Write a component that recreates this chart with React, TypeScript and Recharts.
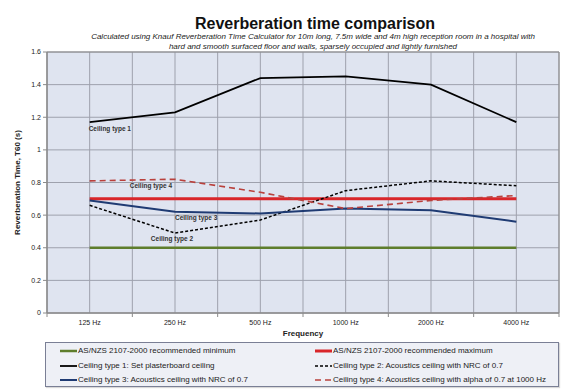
import React from 'react';
import { LineChart, Line, XAxis, YAxis, CartesianGrid, ReferenceArea } from 'recharts';

const categories = ['125 Hz', '250 Hz', '500 Hz', '1000 Hz', '2000 Hz', '4000 Hz'];
const minRecommended = [0.4, 0.4, 0.4, 0.4, 0.4, 0.4];
const maxRecommended = [0.7, 0.7, 0.7, 0.7, 0.7, 0.7];
const ceiling1 = [1.17, 1.23, 1.44, 1.45, 1.4, 1.17];
const ceiling2 = [0.66, 0.49, 0.57, 0.75, 0.81, 0.78];
const ceiling3 = [0.69, 0.62, 0.61, 0.64, 0.63, 0.56];
const ceiling4 = [0.81, 0.82, 0.74, 0.64, 0.69, 0.72];
const yTicks = [0, 0.2, 0.4, 0.6, 0.8, 1, 1.2, 1.4, 1.6];
const xTicks = [0, 0.5, 1, 1.5, 2, 2.5, 3, 3.5, 4, 4.5, 5, 5.5, 6];

const title = 'Reverberation time comparison';
const subtitle1 =
  'Calculated using Knauf Reverberation Time Calculator for 10m long, 7.5m wide and 4m high reception room in a hospital with';
const subtitle2 = 'hard and smooth surfaced floor and walls, sparsely occupied and lightly furnished';

const data = categories.map((c, i) => ({
  x: i + 0.5,
  cat: c,
  min: minRecommended[i],
  max: maxRecommended[i],
  c1: ceiling1[i],
  c2: ceiling2[i],
  c3: ceiling3[i],
  c4: ceiling4[i],
}));

const FONT = '"Liberation Sans", Arial, sans-serif';

const series = [
  { key: 'min', name: 'AS/NZS 2107-2000 recommended minimum', color: '#5e7d2c', width: 2.5, dash: undefined as string | undefined },
  { key: 'max', name: 'AS/NZS 2107-2000 recommended maximum', color: '#d9262a', width: 3, dash: undefined },
  { key: 'c1', name: 'Ceiling type 1: Set plasterboard ceiling', color: '#000000', width: 1.8, dash: undefined },
  { key: 'c2', name: 'Ceiling type 2: Acoustics ceiling with NRC of 0.7', color: '#000000', width: 1.5, dash: '3 2' },
  { key: 'c3', name: 'Ceiling type 3: Acoustics ceiling with NRC of 0.7', color: '#1f3b73', width: 2, dash: undefined },
  { key: 'c4', name: 'Ceiling type 4: Acoustics ceiling with alpha of 0.7 at 1000 Hz', color: '#b9413d', width: 1.6, dash: '6 4' },
];

const annotations: Record<string, { index: number; text: string; dx: number; dy: number; anchor: string }> = {
  c1: { index: 0, text: 'Ceiling type 1', dx: -1, dy: 9, anchor: 'start' },
  c4: { index: 1, text: 'Ceiling type 4', dx: -3, dy: 9, anchor: 'end' },
  c3: { index: 1, text: 'Ceiling type 3', dx: 0, dy: 8, anchor: 'start' },
  c2: { index: 1, text: 'Ceiling type 2', dx: -3, dy: 8, anchor: 'middle' },
};

const makeLabel = (key: string) => (props: any) => {
  const a = annotations[key];
  if (!a || props.index !== a.index) return <g key={`l-${key}-${props.index}`} />;
  return (
    <text
      key={`l-${key}-${props.index}`}
      x={props.x + a.dx}
      y={props.y + a.dy}
      textAnchor={a.anchor}
      fontSize={6.5}
      fontWeight={700}
      fill="#333"
      fontFamily={FONT}
    >
      {a.text}
    </text>
  );
};

const XTick = (props: any) => {
  const { x, y, payload } = props;
  const v = payload.value as number;
  if (Number.isInteger(v)) {
    return <line x1={x} x2={x} y1={y} y2={y + 4} stroke="#8a8a8a" strokeWidth={1} />;
  }
  return (
    <text x={x} y={y + 11.5} textAnchor="middle" fontSize={7} fill="#222" fontFamily={FONT}>
      {categories[Math.round(v - 0.5)]}
    </text>
  );
};

const YLabel = (props: any) => {
  const vb = props.viewBox;
  const cx = 17;
  const cy = vb.y + vb.height / 2;
  return (
    <text
      x={cx}
      y={cy}
      transform={`rotate(-90 ${cx} ${cy})`}
      textAnchor="middle"
      dominantBaseline="central"
      fontSize={8}
      fontWeight={700}
      fill="#222"
      fontFamily={FONT}
    >
      Reverberation Time, T60 (s)
    </text>
  );
};

const Swatch = ({ color, width, dash }: { color: string; width: number; dash?: string }) => (
  <svg width={17} height={6} style={{ display: 'block' }}>
    <line x1={0} x2={17} y1={3} y2={3} stroke={color} strokeWidth={width} strokeDasharray={dash} />
  </svg>
);

const legendOrder = [
  [series[0], series[1]],
  [series[2], series[3]],
  [series[4], series[5]],
];

export default function App() {
  return (
    <div style={{ position: 'absolute', left: 0, top: 0, width: 580, height: 392, background: '#fff', fontFamily: FONT }}>
      <div
        style={{
          position: 'absolute',
          left: 315,
          top: 14,
          transform: 'translateX(-50%)',
          whiteSpace: 'nowrap',
          fontSize: 16,
          fontWeight: 700,
          color: '#111',
          lineHeight: '19px',
        }}
      >
        {title}
      </div>
      <div
        style={{
          position: 'absolute',
          left: 313,
          top: 32,
          transform: 'translateX(-50%)',
          whiteSpace: 'nowrap',
          fontSize: 8,
          fontStyle: 'italic',
          color: '#222',
          lineHeight: '10px',
          textAlign: 'center',
        }}
      >
        <div>{subtitle1}</div>
        <div>{subtitle2}</div>
      </div>
      <LineChart
        width={580}
        height={392}
        data={data}
        margin={{ top: 52, right: 21, bottom: 0, left: 0 }}
        style={{ position: 'absolute', left: 0, top: 0 }}
      >
        <CartesianGrid stroke="#9ea1ad" strokeWidth={1} fill="#dfe4f0" fillOpacity={1} />
        <XAxis
          type="number"
          dataKey="x"
          domain={[0, 6]}
          ticks={xTicks}
          interval={0}
          height={79}
          tickLine={false}
          tickSize={0}
          tickMargin={0}
          axisLine={{ stroke: '#8a8a8a' }}
          tick={<XTick />}
          label={{ value: 'Frequency', position: 'insideTop', offset: 17, fontSize: 8, fontWeight: 700, fill: '#222', fontFamily: FONT }}
        />
        <YAxis
          type="number"
          domain={[0, 1.6]}
          ticks={yTicks}
          interval={0}
          width={47}
          tickSize={4}
          tickMargin={2}
          tickLine={{ stroke: '#8a8a8a' }}
          axisLine={{ stroke: '#8a8a8a' }}
          tick={{ fontSize: 7, fill: '#222', fontFamily: FONT }}
          tickFormatter={(v: number) => (Number.isInteger(v) ? String(v) : v.toFixed(1))}
          label={{ content: <YLabel /> } as any}
        />
        <ReferenceArea x1={0} x2={6} y1={0} y2={1.6} fill="none" stroke="#8a8a8a" strokeWidth={1} />
        {series.map((s) => (
          <Line
            key={s.key}
            type="linear"
            dataKey={s.key}
            name={s.name}
            stroke={s.color}
            strokeWidth={s.width}
            strokeDasharray={s.dash}
            dot={false}
            activeDot={false}
            isAnimationActive={false}
            label={annotations[s.key] ? makeLabel(s.key) : undefined}
          />
        ))}
      </LineChart>
      <div
        style={{
          position: 'absolute',
          left: 45,
          top: 342,
          width: 512,
          height: 43,
          border: '1px solid #7a7f95',
          background: '#eef0f6',
          boxShadow: '1px 1px 1px rgba(0,0,0,0.15)',
        }}
      >
        {legendOrder.map((row, r) => (
          <React.Fragment key={r}>
            {row.map((s, c) => (
              <div
                key={s.key}
                style={{
                  position: 'absolute',
                  left: c === 0 ? 14 : 269,
                  top: 3 + r * 14.5,
                  height: 10,
                  display: 'flex',
                  alignItems: 'center',
                  whiteSpace: 'nowrap',
                  fontSize: 8,
                  color: '#222',
                  lineHeight: '10px',
                }}
              >
                <Swatch color={s.color} width={s.width} dash={s.dash} />
                <span style={{ marginLeft: 1 }}>{s.name}</span>
              </div>
            ))}
          </React.Fragment>
        ))}
      </div>
    </div>
  );
}
